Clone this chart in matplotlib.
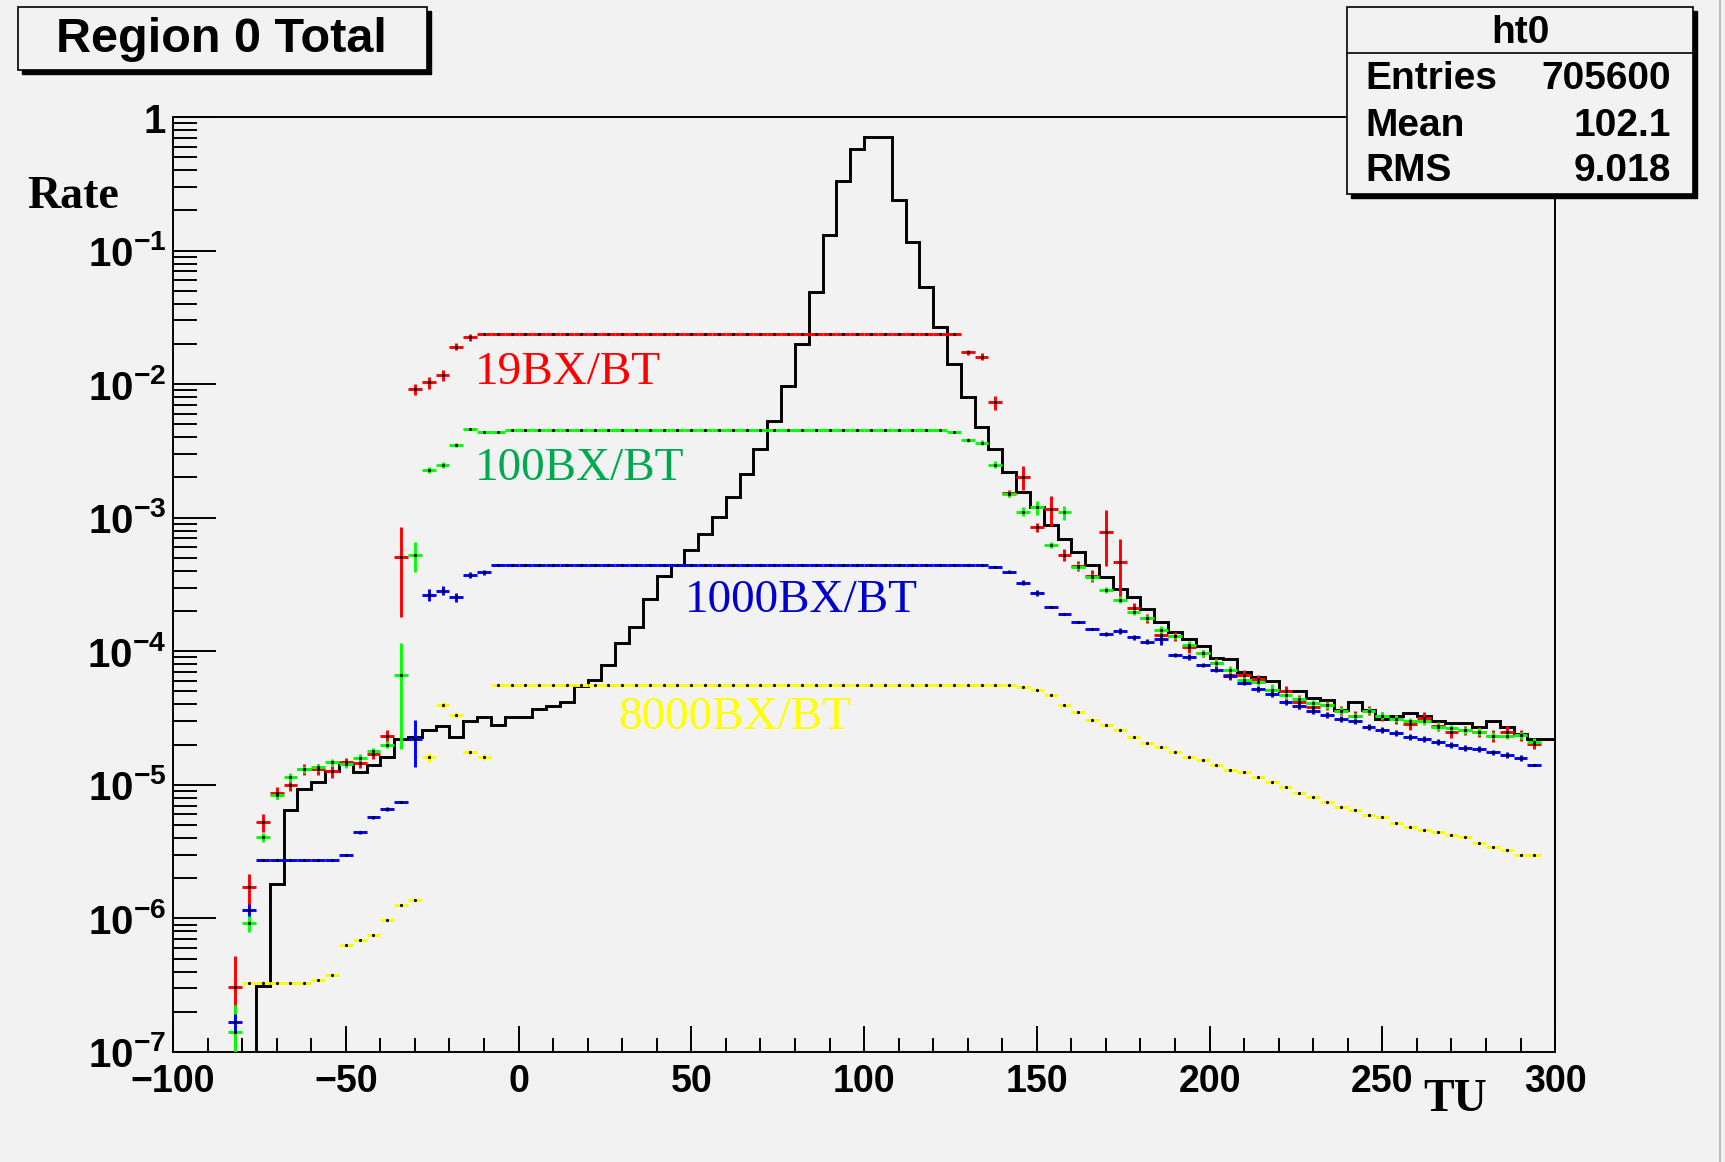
import numpy as np
import matplotlib.pyplot as plt
from matplotlib.patches import Rectangle
from matplotlib.lines import Line2D
from matplotlib.ticker import MultipleLocator, LogLocator, NullFormatter, FuncFormatter

plt.rcParams['mathtext.fontset'] = 'custom'
plt.rcParams['mathtext.bf'] = 'Liberation Sans:bold'
plt.rcParams['mathtext.rm'] = 'Liberation Sans:bold'

# histogram binning (TU), 4 units per bin
bin_width = 4

# black histogram ht0, first bin centre -74
black_start = -74
black_rate = [3.1e-7, 1.8e-6, 6.5e-6, 9.3e-6, 1.05e-5, 1.26e-5, 1.45e-5, 1.24e-5, 1.41e-5, 1.62e-5,
              2.2e-5, 2.3e-5, 2.58e-5, 2.74e-5, 2.3e-5, 2.98e-5, 3.24e-5, 2.8e-5, 3.24e-5, 3.24e-5,
              3.68e-5, 3.86e-5, 4.2e-5, 5.45e-5, 6.1e-5, 7.9e-5, 1.15e-4, 1.51e-4, 2.46e-4, 3.64e-4,
              4.43e-4, 5.77e-4, 7.5e-4, 1.01e-3, 1.43e-3, 2.12e-3, 3.27e-3, 5.26e-3, 9.65e-3, 2.0e-2,
              4.9e-2, 0.131, 0.329, 0.576, 0.708, 0.708, 0.238, 0.115, 0.053, 0.0268,
              0.0141, 7.97e-3, 4.76e-3, 3.26e-3, 2.19e-3, 1.57e-3, 1.21e-3, 8.83e-4, 6.9e-4, 5.5e-4,
              4.45e-4, 3.62e-4, 2.92e-4, 2.54e-4, 2.07e-4, 1.67e-4, 1.4e-4, 1.23e-4, 1.1e-4, 8.87e-5,
              8.7e-5, 7.04e-5, 6.46e-5, 6.0e-5, 5.0e-5, 5.0e-5, 4.5e-5, 4.3e-5, 3.65e-5, 4.2e-5,
              3.65e-5, 3.1e-5, 3.3e-5, 3.45e-5, 3.25e-5, 3.0e-5, 2.9e-5, 2.9e-5, 2.7e-5, 3.0e-5,
              2.7e-5, 2.4e-5, 2.2e-5, 2.2e-5]

# 19BX/BT (red), first bin centre -82
red_start = -82
red_rate = ([3.06e-7, 1.71e-6, 5.25e-6, 8.76e-6, 1.0e-5, 1.31e-5, 1.31e-5, 1.26e-5, 1.47e-5, 1.45e-5,
             1.7e-5, 2.33e-5, 5.12e-4, 9.16e-3, 1.03e-2, 1.17e-2, 1.91e-2, 2.24e-2]
            + [0.0238] * 35
            + [1.73e-2, 1.61e-2, 7.3e-3, 1.52e-3, 2.03e-3, 8.5e-4, 1.16e-3, 5.3e-4, 4.36e-4, 3.66e-4,
               7.87e-4, 4.65e-4, 2.1e-4, 1.77e-4, 1.33e-4, 1.29e-4, 1.07e-4, 9.7e-5, 8.2e-5, 6.65e-5,
               6.65e-5, 6.18e-5, 5.1e-5, 5.0e-5, 4.2e-5, 3.82e-5, 3.95e-5, 3.6e-5, 3.25e-5, 3.6e-5,
               3.26e-5, 3.1e-5, 2.85e-5, 3.18e-5, 2.75e-5, 2.5e-5, 2.57e-5, 2.5e-5, 2.33e-5, 2.5e-5,
               2.35e-5, 2.03e-5])
red_err = ([0.7, 0.26, 0.15, 0.1, 0.1, 0.1, 0.1, 0.1, 0.08, 0.08, 0.08, 0.1, 0.65, 0.1, 0.1, 0.1, 0.06, 0.06]
           + [0.0] * 35
           + [0.05, 0.06, 0.12, 0.06, 0.2, 0.08, 0.25, 0.1, 0.08, 0.1,
              0.45, 0.5, 0.1, 0.08, 0.1, 0.08, 0.1, 0.06, 0.08, 0.08,
              0.08, 0.08, 0.08, 0.1, 0.12, 0.1, 0.08, 0.08, 0.1, 0.08,
              0.08, 0.08, 0.1, 0.1, 0.08, 0.1, 0.08, 0.08, 0.1, 0.1,
              0.1, 0.08])

# 100BX/BT (green)
green_start = -82
green_rate = ([1.4e-7, 9.3e-7, 4.06e-6, 8.4e-6, 1.14e-5, 1.31e-5, 1.35e-5, 1.47e-5, 1.43e-5, 1.6e-5,
               1.78e-5, 2.0e-5, 6.65e-5, 5.27e-4, 2.28e-3, 2.48e-3, 3.5e-3, 4.59e-3, 4.41e-3, 4.41e-3]
              + [4.55e-3] * 32
              + [4.36e-3]
              + [3.82e-3, 3.65e-3, 2.5e-3, 1.5e-3, 1.11e-3, 1.2e-3, 6.25e-4, 1.1e-3, 4.3e-4, 3.6e-4,
                 2.88e-4, 2.43e-4, 1.98e-4, 1.77e-4, 1.45e-4, 1.29e-4, 1.12e-4, 9.7e-5, 8.2e-5, 7.3e-5,
                 6.1e-5, 5.93e-5, 5.14e-5, 4.72e-5, 4.38e-5, 4.09e-5, 3.95e-5, 3.6e-5, 3.25e-5, 3.6e-5,
                 3.3e-5, 3.12e-5, 2.98e-5, 3.0e-5, 2.73e-5, 2.66e-5, 2.57e-5, 2.5e-5, 2.33e-5, 2.33e-5,
                 2.35e-5, 2.1e-5])
green_err = ([0.6, 0.15, 0.08, 0.06, 0.08, 0.06, 0.06, 0.06, 0.06, 0.06,
              0.06, 0.06, 0.72, 0.25, 0.06, 0.05, 0.03, 0.0, 0.0, 0.0]
             + [0.0] * 33
             + [0.03, 0.04, 0.06, 0.05, 0.08, 0.12, 0.05, 0.12, 0.06, 0.06,
                0.06, 0.06, 0.06, 0.05, 0.06, 0.05, 0.06, 0.06, 0.06, 0.06,
                0.06, 0.06, 0.1, 0.06, 0.06, 0.06, 0.06, 0.06, 0.06, 0.06,
                0.06, 0.06, 0.06, 0.06, 0.08, 0.06, 0.06, 0.06, 0.06, 0.06,
                0.06, 0.06])

# 1000BX/BT (blue)
blue_start = -82
blue_rate = ([1.67e-7, 1.16e-6]
             + [2.75e-6] * 6
             + [3.0e-6, 4.4e-6, 5.7e-6, 6.6e-6, 7.4e-6, 2.2e-5, 2.64e-4, 2.85e-4, 2.54e-4, 3.73e-4, 3.89e-4]
             + [4.43e-4] * 36
             + [4.26e-4, 3.95e-4, 3.27e-4, 2.75e-4, 2.16e-4, 1.9e-4, 1.65e-4, 1.46e-4, 1.35e-4, 1.42e-4,
                1.27e-4, 1.18e-4, 1.23e-4, 9.4e-5, 9.1e-5, 7.9e-5, 7.3e-5, 6.5e-5, 5.8e-5, 5.2e-5,
                4.8e-5, 4.2e-5, 3.9e-5, 3.6e-5, 3.34e-5, 3.1e-5, 2.98e-5, 2.7e-5, 2.58e-5, 2.44e-5,
                2.28e-5, 2.2e-5, 2.09e-5, 2.0e-5, 1.9e-5, 1.85e-5, 1.75e-5, 1.68e-5, 1.6e-5, 1.41e-5])
blue_err = ([0.15, 0.1]
            + [0.0] * 6
            + [0.0, 0.03, 0.03, 0.03, 0.0, 0.38, 0.1, 0.08, 0.08, 0.05, 0.05]
            + [0.0] * 36
            + [0.0, 0.03, 0.04, 0.05, 0.0, 0.0, 0.0, 0.0, 0.04, 0.05,
               0.04, 0.04, 0.1, 0.04, 0.05, 0.04, 0.04, 0.04, 0.04, 0.05,
               0.06, 0.05, 0.05, 0.05, 0.05, 0.05, 0.05, 0.05, 0.05, 0.05,
               0.05, 0.05, 0.05, 0.05, 0.05, 0.05, 0.05, 0.05, 0.05, 0.0])

# 8000BX/BT (yellow)
yellow_start = -78
yellow_rate = ([3.3e-7] * 5
               + [3.47e-7, 3.78e-7, 6.3e-7, 6.9e-7, 7.5e-7, 9.8e-7, 1.26e-6, 1.38e-6, 1.61e-5, 3.97e-5,
                  3.34e-5, 1.75e-5, 1.61e-5]
               + [5.6e-5] * 38
               + [5.38e-5, 5.14e-5, 4.72e-5, 3.97e-5, 3.48e-5, 3.07e-5, 2.81e-5, 2.58e-5, 2.28e-5, 2.07e-5,
                  1.91e-5, 1.75e-5, 1.61e-5, 1.54e-5, 1.41e-5, 1.29e-5, 1.24e-5, 1.14e-5, 1.05e-5, 9.6e-6,
                  8.76e-6, 8.1e-6, 7.4e-6, 6.8e-6, 6.5e-6, 5.96e-6, 5.73e-6, 5.2e-6, 4.82e-6, 4.6e-6,
                  4.4e-6, 4.23e-6, 4.06e-6, 3.7e-6, 3.41e-6, 3.26e-6, 3.0e-6, 3.0e-6])
yellow_err = ([0.0] * 5
              + [0.0, 0.0, 0.0, 0.0, 0.0, 0.0, 0.0, 0.0, 0.08, 0.05, 0.05, 0.05, 0.05]
              + [0.0] * 38
              + [0.0] * 38)

series = [
    (red_start, red_rate, red_err, '#ff0000'),
    (green_start, green_rate, green_err, '#00ff00'),
    (blue_start, blue_rate, blue_err, '#0000ff'),
    (yellow_start, yellow_rate, yellow_err, '#ffff00'),
]

bg = '#f2f2f2'
fig = plt.figure(figsize=(17.25, 11.62), dpi=100, facecolor=bg)
ax = fig.add_axes([0.1003, 0.0947, 0.8012, 0.8046])
ax.set_facecolor(bg)
ax.set_yscale('log')

# black histogram as stairs
black = np.array(black_rate)
edges = black_start - bin_width / 2 + bin_width * np.arange(len(black) + 1)
ax.stairs(black, edges, baseline=1e-9, color='black', lw=2.1, zorder=2)

# coloured points with error bars and black dot markers
for start, rate, err, col in series:
    rate = np.array(rate)
    err = np.array(err) * rate
    x = start + bin_width * np.arange(len(rate))
    ax.errorbar(x, rate, xerr=bin_width / 2, yerr=err, fmt='none', ecolor=col,
                elinewidth=2.1, capsize=0, zorder=3)
    ax.plot(x, rate, ls='none', marker='o', ms=2.3, mec='none', color='black', zorder=4)

ax.set_xlim(-100, 300)
ax.set_ylim(1e-7, 1)

ax.xaxis.set_major_locator(MultipleLocator(50))
ax.xaxis.set_minor_locator(MultipleLocator(10))
ax.yaxis.set_major_locator(LogLocator(base=10, numticks=20))
ax.yaxis.set_minor_locator(LogLocator(base=10, subs=np.arange(2, 10), numticks=20))
ax.yaxis.set_minor_formatter(NullFormatter())


def ylab(v, pos):
    e = int(round(np.log10(v)))
    if e == 0:
        return r'$\mathbf{1}$'
    return r'$\mathbf{10^{%d}}$' % e


ax.yaxis.set_major_formatter(FuncFormatter(ylab))

ax.tick_params(axis='x', which='major', direction='in', length=19, width=1.4, pad=9,
               labelsize=27, top=False)
ax.tick_params(axis='x', which='minor', direction='in', length=10, width=1.4, top=False)
ax.tick_params(axis='y', which='major', direction='in', length=31, width=1.4, pad=5,
               labelsize=29, right=False)
ax.tick_params(axis='y', which='minor', direction='in', length=17, width=1.4, right=False)
for lab in ax.get_xticklabels():
    lab.set_fontfamily('Liberation Sans')
    lab.set_fontweight('bold')
for s in ax.spines.values():
    s.set_linewidth(1.4)

# series labels
ax.text(-12.6, 0.0121, '19BX/BT', color='#ff0000', fontsize=34, family='Liberation Serif',
        ha='left', va='center', zorder=5)
ax.text(-12.6, 2.33e-3, '100BX/BT', color='#00a94f', fontsize=34, family='Liberation Serif',
        ha='left', va='center', zorder=5)
ax.text(48.2, 2.38e-4, '1000BX/BT', color='#0000cc', fontsize=34, family='Liberation Serif',
        ha='left', va='center', zorder=5)
ax.text(28.8, 3.17e-5, '8000BX/BT', color='#ffff00', fontsize=34, family='Liberation Serif',
        ha='left', va='center', zorder=5)

# axis titles
fig.text(0.0155, 0.8305, 'Rate', fontsize=33, family='Liberation Serif', weight='bold',
         ha='left', va='center')
fig.text(0.8435, 0.0534, 'TU', fontsize=33, family='Liberation Serif', weight='bold',
         ha='center', va='center')

# title box with shadow
fig.add_artist(Rectangle((0.0128, 0.9363), 0.2371, 0.0542, transform=fig.transFigure,
                         facecolor='black', edgecolor='black', lw=1))
fig.add_artist(Rectangle((0.0104, 0.9398), 0.2371, 0.0542, transform=fig.transFigure,
                         facecolor=bg, edgecolor='black', lw=1.2))
fig.text(0.1284, 0.9662, 'Region 0 Total', fontsize=35, family='Liberation Sans',
         weight='bold', ha='center', va='center')

# stats box with shadow
fig.add_artist(Rectangle((0.7832, 0.8296), 0.2006, 0.1609, transform=fig.transFigure,
                         facecolor='black', edgecolor='black', lw=1))
fig.add_artist(Rectangle((0.7809, 0.8331), 0.2006, 0.1609, transform=fig.transFigure,
                         facecolor=bg, edgecolor='black', lw=1.2))
fig.add_artist(Line2D([0.7809, 0.9815], [0.9544, 0.9544], transform=fig.transFigure,
                      color='black', lw=1.2))
fig.text(0.8812, 0.9720, 'ht0', fontsize=28, family='Liberation Sans', weight='bold',
         ha='center', va='center')
stat_names = ['Entries', 'Mean', 'RMS']
stat_values = ['705600', '102.1', '9.018']
stat_y = [0.9320, 0.8916, 0.8528]
for name, val, yy in zip(stat_names, stat_values, stat_y):
    fig.text(0.7913, yy, name, fontsize=28, family='Liberation Sans', weight='bold',
             ha='left', va='center')
    fig.text(0.9687, yy, val, fontsize=28, family='Liberation Sans', weight='bold',
             ha='right', va='center')

# canvas edge
fig.add_artist(Line2D([0.9971, 0.9971], [0.0, 1.0], transform=fig.transFigure,
                      color='#c0c0c0', lw=1.5))

fig.savefig('out.png', dpi=100, facecolor=bg)
